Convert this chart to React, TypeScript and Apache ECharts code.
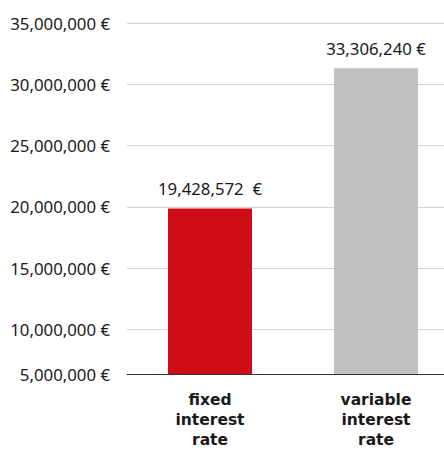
import React, { useEffect, useRef } from "react";
import * as echarts from "echarts";

const categories = ["fixed\ninterest\nrate", "variable\ninterest\nrate"];
const barValues = [19860000, 31300000];
const barLabels = ["19,428,572  €", "33,306,240 €"];
const barColors = ["#cf0d17", "#c0c1bf"];
const yAxisMin = 6350000;
const yAxisMax = 35000000;
const yTickValues = [6350000, 10000000, 15000000, 20000000, 25000000, 30000000, 35000000];
const yTickLabels = ["5,000,000 €", "10,000,000 €", "15,000,000 €", "20,000,000 €", "25,000,000 €", "30,000,000 €", "35,000,000 €"];

export default function App() {
  const ref = useRef<HTMLDivElement>(null);
  useEffect(() => {
    document.body.style.margin = "0";
    document.body.style.overflow = "hidden";
    if (!ref.current) return;
    const chart = echarts.init(ref.current, null, { renderer: "svg" });
    chart.setOption({
      animation: false,
      textStyle: { fontFamily: "Noto Sans" },
      grid: { left: 127, right: 0, top: 23, bottom: 76, containLabel: false },
      xAxis: {
        type: "category",
        data: categories,
        axisLine: { show: true, lineStyle: { color: "#333333", width: 1 } },
        axisTick: { show: false },
        axisLabel: {
          interval: 0,
          margin: 16,
          fontFamily: "DejaVu Sans",
          fontWeight: "bold",
          fontSize: 15.5,
          lineHeight: 20,
          color: "#1a1a1a",
          align: "center",
        },
      },
      yAxis: {
        type: "value",
        min: yAxisMin,
        max: yAxisMax,
        axisLine: { show: false },
        axisTick: { show: false, customValues: yTickValues },
        splitLine: { show: true, lineStyle: { color: "#d4d4d4", width: 1 } },
        axisLabel: {
          customValues: yTickValues,
          margin: 17,
          fontSize: 16.8,
          color: "#1a1a1a",
          formatter: (v: number) => {
            const i = yTickValues.indexOf(v);
            return i >= 0 ? yTickLabels[i] : "";
          },
        },
      },
      series: [
        {
          type: "bar",
          barWidth: 84,
          data: barValues.map((v, i) => ({ value: v, itemStyle: { color: barColors[i] } })),
          label: {
            show: true,
            position: "top",
            distance: 11,
            fontSize: 16.8,
            color: "#1a1a1a",
            formatter: (p: any) => barLabels[p.dataIndex],
          },
        },
      ],
    });
    return () => chart.dispose();
  }, []);
  return (
    <div style={{ width: 444, height: 450, overflow: "hidden" }}>
      <div ref={ref} style={{ width: 459, height: 450 }} />
    </div>
  );
}
